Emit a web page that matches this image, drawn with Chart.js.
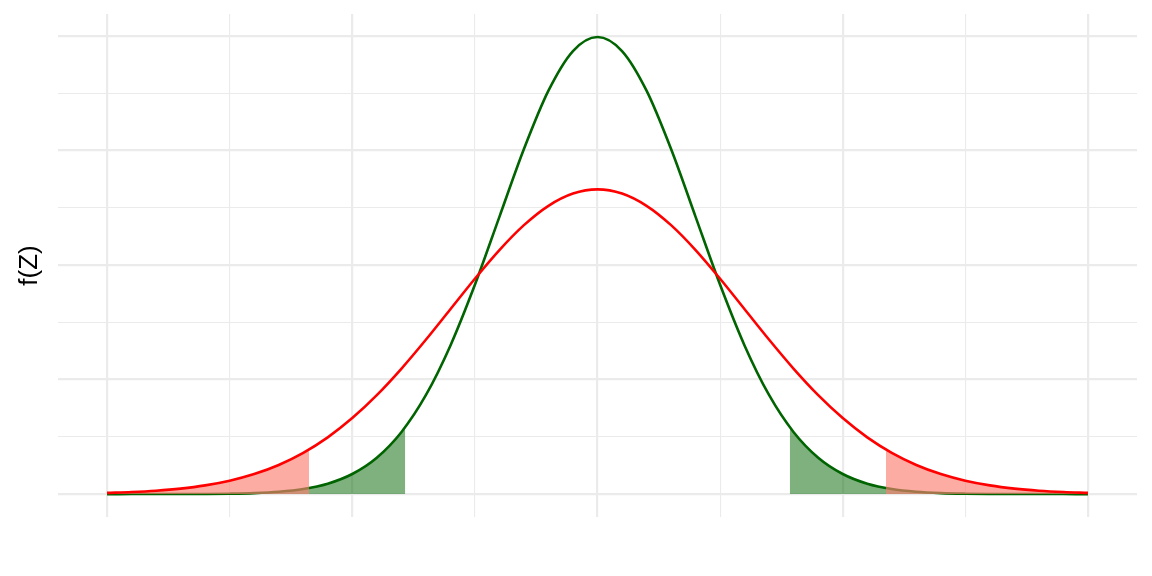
<!DOCTYPE html>
<html>
<head>
<meta charset="utf-8">
<script src="https://cdn.jsdelivr.net/npm/chart.js@4"></script>
<style>
  html, body { margin: 0; padding: 0; background: #fff; }
  #wrap { width: 1152px; height: 576px; }
</style>
</head>
<body>
<div id="wrap"><canvas id="chart" width="1152" height="576"></canvas></div>
<script>
// z values along the x axis
const zValues = [-5, -4.75, -4.5, -4.25, -4, -3.75, -3.5, -3.25, -3, -2.75, -2.5, -2.25, -2, -1.75, -1.5, -1.25, -1, -0.75, -0.5, -0.25,
  0, 0.25, 0.5, 0.75, 1, 1.25, 1.5, 1.75, 2, 2.25, 2.5, 2.75, 3, 3.25, 3.5, 3.75, 4, 4.25, 4.5, 4.75, 5];

// green curve (narrow)
const greenDensity = [0, 0.00001, 0.00002, 0.00005, 0.00013, 0.00035, 0.00087, 0.00203, 0.00443, 0.00909, 0.01753, 0.03174, 0.05399, 0.08628, 0.12952, 0.18265, 0.24197, 0.30114, 0.35207, 0.38667,
  0.39894, 0.38667, 0.35207, 0.30114, 0.24197, 0.18265, 0.12952, 0.08628, 0.05399, 0.03174, 0.01753, 0.00909, 0.00443, 0.00203, 0.00087, 0.00035, 0.00013, 0.00005, 0.00002, 0.00001, 0];

// red curve (wide)
const redDensity = [0.00103, 0.00177, 0.00295, 0.00480, 0.00760, 0.01169, 0.01748, 0.02544, 0.03599, 0.04954, 0.06632, 0.08635, 0.10934, 0.13467, 0.16131, 0.18795, 0.21297, 0.23471, 0.25159, 0.26229,
  0.26596, 0.26229, 0.25159, 0.23471, 0.21297, 0.18795, 0.16131, 0.13467, 0.10934, 0.08635, 0.06632, 0.04954, 0.03599, 0.02544, 0.01748, 0.01169, 0.00760, 0.00480, 0.00295, 0.00177, 0.00103];

// shaded tails
const greenLeftX = [-5, -4.75, -4.5, -4.25, -4, -3.75, -3.5, -3.25, -3, -2.75, -2.5, -2.25, -2, -1.96];
const greenLeftY = [0, 0.00001, 0.00002, 0.00005, 0.00013, 0.00035, 0.00087, 0.00203, 0.00443, 0.00909, 0.01753, 0.03174, 0.05399, 0.05844];
const greenRightX = [1.96, 2, 2.25, 2.5, 2.75, 3, 3.25, 3.5, 3.75, 4, 4.25, 4.5, 4.75, 5];
const greenRightY = [0.05844, 0.05399, 0.03174, 0.01753, 0.00909, 0.00443, 0.00203, 0.00087, 0.00035, 0.00013, 0.00005, 0.00002, 0.00001, 0];
const redLeftX = [-5, -4.75, -4.5, -4.25, -4, -3.75, -3.5, -3.25, -3, -2.94];
const redLeftY = [0.00103, 0.00177, 0.00295, 0.00480, 0.00760, 0.01169, 0.01748, 0.02544, 0.03599, 0.03896];
const redRightX = [2.94, 3, 3.25, 3.5, 3.75, 4, 4.25, 4.5, 4.75, 5];
const redRightY = [0.03896, 0.03599, 0.02544, 0.01748, 0.01169, 0.00760, 0.00480, 0.00295, 0.00177, 0.00103];

const xGridTicks = [-5, -3.75, -2.5, -1.25, 0, 1.25, 2.5, 3.75, 5];
const yGridTicks = [0, 0.05, 0.1, 0.15, 0.2, 0.25, 0.3, 0.35, 0.4];

const pts = (xs, ys) => xs.map((x, i) => ({ x: x, y: ys[i] }));

const GREEN = '#006400';
const RED = '#FF0000';

function tailSet(xs, ys, color, order) {
  return {
    data: pts(xs, ys),
    borderWidth: 0,
    borderColor: 'rgba(0,0,0,0)',
    backgroundColor: color,
    fill: 'origin',
    pointRadius: 0,
    cubicInterpolationMode: 'monotone',
    order: order
  };
}

function lineSet(ys, color, order) {
  return {
    data: pts(zValues, ys),
    borderColor: color,
    borderWidth: 2.6,
    fill: false,
    pointRadius: 0,
    cubicInterpolationMode: 'monotone',
    order: order
  };
}

const isMajor = (v, step) => Math.abs(v / step - Math.round(v / step)) < 1e-6;

new Chart(document.getElementById('chart'), {
  type: 'line',
  data: {
    datasets: [
      lineSet(redDensity, RED, 1),
      tailSet(redLeftX, redLeftY, 'rgba(250,128,114,0.65)', 2),
      tailSet(redRightX, redRightY, 'rgba(250,128,114,0.65)', 2),
      lineSet(greenDensity, GREEN, 3),
      tailSet(greenLeftX, greenLeftY, 'rgba(0,100,0,0.5)', 4),
      tailSet(greenRightX, greenRightY, 'rgba(0,100,0,0.5)', 4)
    ]
  },
  options: {
    responsive: false,
    animation: false,
    layout: { padding: { top: 14, right: 15, left: 0, bottom: 0 } },
    plugins: {
      legend: { display: false },
      tooltip: { enabled: false }
    },
    scales: {
      x: {
        type: 'linear',
        min: -5.5,
        max: 5.5,
        afterBuildTicks: s => { s.ticks = xGridTicks.map(v => ({ value: v })); },
        afterFit: s => { s.height = 59; },
        ticks: { display: false },
        border: { display: false },
        grid: {
          drawTicks: false,
          color: '#EBEBEB',
          lineWidth: c => isMajor(c.tick.value, 2.5) ? 2.2 : 1.1
        }
      },
      y: {
        min: -0.02,
        max: 0.419,
        afterBuildTicks: s => { s.ticks = yGridTicks.map(v => ({ value: v })); },
        afterFit: s => { s.width = 58; },
        ticks: { display: false },
        border: { display: false },
        grid: {
          drawTicks: false,
          color: '#EBEBEB',
          lineWidth: c => isMajor(c.tick.value, 0.1) ? 2.2 : 1.1
        },
        title: {
          display: true,
          text: 'f(Z)',
          color: '#000',
          font: { family: 'Liberation Sans', size: 26 },
          padding: { top: 14, bottom: 0 }
        }
      }
    }
  }
});
</script>
</body>
</html>
